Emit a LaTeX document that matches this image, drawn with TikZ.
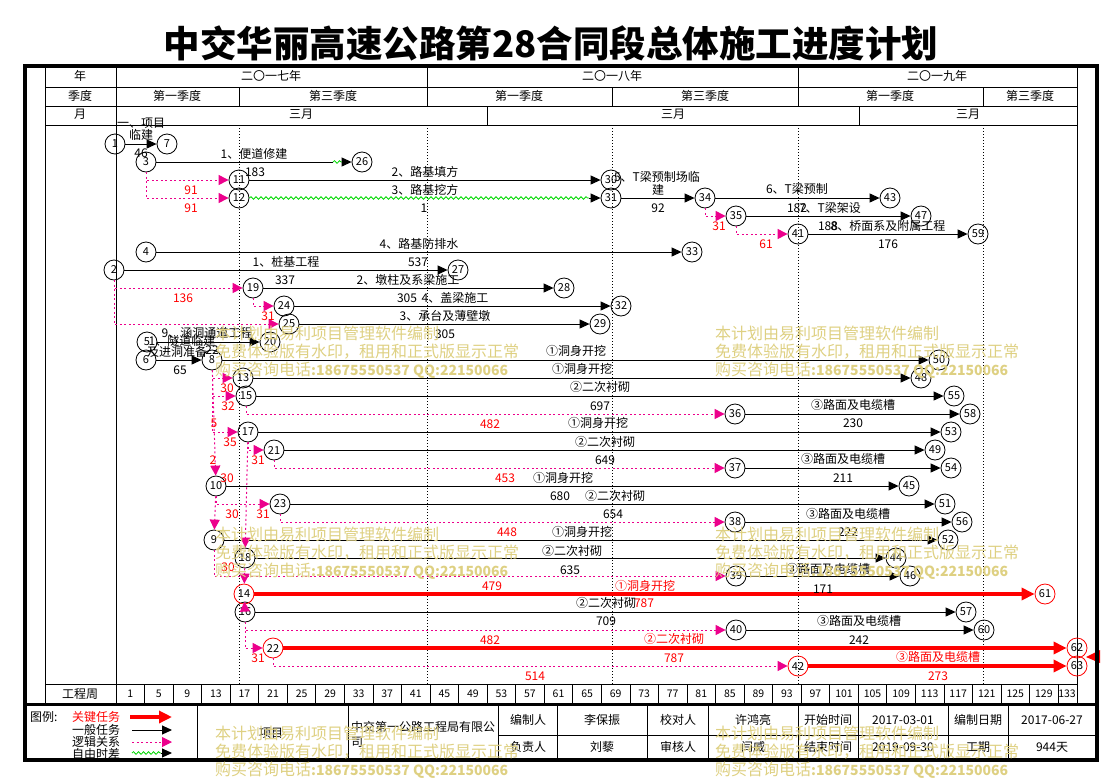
\documentclass[tikz,border=0pt]{standalone}
\usepackage{fontspec}
\setmainfont{Noto Sans CJK SC}
\usetikzlibrary{arrows.meta,decorations.pathmorphing}
\definecolor{wmark}{RGB}{222,208,130}
\definecolor{floatgreen}{RGB}{0,215,0}
\newcommand{\wmtext}[3]{\node[wm] (#1) at (#2,#3) {本计划由易利项目管理软件编制\\免费体验版有水印，租用和正式版显示正常\\购买咨询电话{\fontsize{14}{18}\selectfont\bfseries :18675550537 QQ:22150066}};}
\begin{document}
\begin{tikzpicture}[x=1pt,y=-1pt,>={Triangle[length=10pt,width=9pt]}]
        \tikzstyle{event}=[circle,draw=black,line width=0.8pt,minimum size=20pt,inner sep=0pt,font=\fontsize{11}{11}\selectfont]
        \tikzstyle{critevent}=[event,draw=red]
        \tikzstyle{task}=[draw,line width=1pt,->]
        \tikzstyle{crittask}=[draw=red,line width=3.5pt,-{Triangle[length=13pt,width=12pt]}]
        \tikzstyle{logic}=[draw=magenta,line width=1pt,dash pattern=on 2pt off 2.5pt,-{Triangle[length=10pt,width=10pt]}]
        \tikzstyle{freefloat}=[draw=floatgreen,line width=0.8pt,decorate,decoration={snake,amplitude=1.3pt,segment length=5pt}]
        \tikzstyle{txt}=[inner sep=0pt,font=\fontsize{12}{12}\selectfont]
        \tikzstyle{redtxt}=[txt,text=red]
        \tikzstyle{weekline}=[draw,line width=0.8pt,dash pattern=on 1pt off 2pt]
        \tikzstyle{thin}=[draw,line width=0.8pt]
        \tikzstyle{wm}=[anchor=west,align=left,inner sep=0pt,text=wmark,font=\fontsize{16}{18}\selectfont]
        \useasboundingbox (0,0) rectangle (1101,777);

        % title
        \node (title) at (551,43) {\fontsize{36.5}{40}\selectfont\bfseries 中交华丽高速公路第28合同段总体施工进度计划};

        % time scale
        \foreach \x in {239,427,612,798,983}
          \path[weekline] (\x,125) -- (\x,684);
        \path[thin] (45,87) -- (1077,87) (45,106) -- (1077,106) (45,125) -- (1077,125) (45,684) -- (1077,684);
        \path[thin] (45,66) -- (45,704) (116,66) -- (116,704) (1077,66) -- (1077,704);
        \path[thin] (427,66) -- (427,87) (798,66) -- (798,87);
        \foreach \x in {239,427,612,798,983}
          \path[thin] (\x,87) -- (\x,106);
        \path[thin] (487,106) -- (487,125) (859,106) -- (859,125);
        \foreach \i in {1,...,33}
          \path[thin] ({116+28.55*\i},684) -- ({116+28.55*\i},704);

        \node[txt] (hy) at (80,76) {年};
        \node[txt] (hq) at (80,96) {季度};
        \node[txt] (hm) at (80,114) {月};
        \node[txt] (hw) at (80,694) {工程周};
        \node[txt] (y1) at (271,76) {二〇一七年};
        \node[txt] (y2) at (612,76) {二〇一八年};
        \node[txt] (y3) at (937,76) {二〇一九年};
        \node[txt] (q1) at (177,96) {第一季度};
        \node[txt] (q2) at (333,96) {第三季度};
        \node[txt] (q3) at (519,96) {第一季度};
        \node[txt] (q4) at (705,96) {第三季度};
        \node[txt] (q5) at (890,96) {第一季度};
        \node[txt] (q6) at (1030,96) {第三季度};
        \node[txt] (m1) at (301,114) {三月};
        \node[txt] (m2) at (673,114) {三月};
        \node[txt] (m3) at (968,114) {三月};
        \foreach \i in {0,...,32}{
          \pgfmathtruncatemacro{\wk}{1+4*\i}
          \node[txt,font=\fontsize{10.5}{11}\selectfont] (w\i) at ({116+28.55*(\i+0.5)},694) {\wk};
        }
        \node[txt,font=\fontsize{10.5}{11}\selectfont] (w33) at (1067,694) {133};

        % events
        \foreach \n/\x/\y in {1/115/144, 7/167/144, 3/146/162, 26/362/162, 11/239/180, 30/611/180,
            12/239/198, 31/611/198, 34/705/198, 43/890/198, 35/736/216, 47/921/216, 41/798/234, 59/978/234,
            4/146/252, 33/692/252, 2/114/270, 27/458/270, 19/253/288, 28/564/288, 24/284/306, 32/621/306,
            25/289/324, 29/600/324, 5/147/342, 20/270/342, 6/146/360, 8/212/360, 50/939/360,
            13/243/378, 48/921/378, 15/246/396, 55/954/396, 36/735/414, 58/970/414, 17/248/432, 53/951/432,
            21/274/450, 49/935/450, 37/735/468, 54/951/468, 10/216/486, 45/909/486, 23/280/504, 51/945/504,
            38/735/522, 56/962/522, 9/214/540, 52/948/540, 18/245/558, 44/896/558, 39/736/576, 46/910/576,
            16/245/612, 57/966/612, 40/736/630, 60/984/630}
          \node[event] (n\n) at (\x,\y) {\n};
        \foreach \n/\x/\y in {14/244/594, 61/1045/594, 22/273/648, 62/1077/648, 42/798/666, 63/1077/666}
          \node[critevent] (n\n) at (\x,\y) {\n};

        % tasks
        \foreach \a/\b in {1/7, 11/30, 31/34, 34/43, 35/47, 41/59, 4/33, 2/27, 19/28, 24/32, 25/29,
            5/20, 6/8, 8/50, 13/48, 15/55, 36/58, 17/53, 21/49, 37/54, 10/45, 23/51, 38/56,
            9/52, 18/44, 39/46, 16/57, 40/60}
          \path[task] (n\a) -- (n\b);
        \foreach \a/\b in {14/61, 22/62, 42/63}
          \path[crittask] (n\a) -- (n\b);

        % free float
        \coordinate (f3a) at (333,162);
        \coordinate (f3b) at (342,162);
        \coordinate (f12) at (589,198);
        \path[task,-] (n3) -- (f3a);
        \path[freefloat] (f3a) -- (f3b);
        \path[task] (f3b) -- (n26);
        \path[freefloat] (n12) -- (f12);
        \path[task] (f12) -- (n31);

        % logic links
        \foreach \a/\b in {3/11, 3/12, 34/35, 35/41, 2/19, 2/25, 19/24, 8/13, 8/15, 8/17, 15/36,
            17/21, 21/37, 10/23, 23/38, 9/39, 16/40, 16/22, 22/42}
          \path[logic] (n\a) |- (n\b);
        \foreach \a/\b in {8/10, 10/9, 17/18, 18/14, 14/16}
          \path[logic] (n\a) -- (n\b);
        \fill[red] (1086,657) -- (1100,650) -- (1100,663) -- cycle;

        % task names and durations
        \foreach \x/\y/\t [count=\i] in {141/123/一、项目, 141/135/临建, 141/153/46, 254/154/1、便道修建, 255/172/183,
            425/172/2、路基填方, 425/190/3、路基挖方, 424/208/1, 657/177/5、T梁预制场临, 658/190/建, 658/208/92,
            797/189/6、T梁预制, 797/208/182, 830/208/7、T梁架设, 828/226/188, 888/226/8、桥面系及附属工程, 888/244/176,
            419/244/4、路基防排水, 418/262/537, 286/262/1、桩基工程, 285/280/337, 408/280/2、墩柱及系梁施工,
            407/298/305, 455/298/4、盖梁施工, 445/316/3、承台及薄壁墩, 445/334/305, 207/333/9、涵洞通道工程,
            182/341/1、隧道临建, 177/352/及进洞准备, 212/350/22, 180/370/65,
            576/351/①洞身开挖, 582/369/①洞身开挖, 600/387/②二次衬砌, 600/406/697,
            853/405/③路面及电缆槽, 853/423/230, 598/423/①洞身开挖, 605/442/②二次衬砌, 605/460/649,
            843/459/③路面及电缆槽, 843/478/211, 563/478/①洞身开挖, 560/496/680, 615/496/②二次衬砌, 613/514/654,
            848/514/③路面及电缆槽, 848/532/222, 582/532/①洞身开挖, 572/551/②二次衬砌, 570/570/635,
            828/569/③路面及电缆槽, 823/589/171, 606/603/②二次衬砌, 606/621/709, 859/621/③路面及电缆槽, 859/640/242}
          \node[txt] (t\i) at (\x,\y) {\t};
        \foreach \x/\y/\t [count=\i] in {191/190/91, 191/208/91, 719/226/31, 766/244/61, 183/298/136, 268/316/31,
            227/388/30, 228/406/32, 490/424/482, 214/423/5, 230/442/35, 213/460/2, 258/460/31, 505/478/453,
            227/478/30, 232/514/30, 263/514/31, 507/532/448, 228/567/30, 492/586/479, 645/586/①洞身开挖,
            644/603/787, 490/640/482, 674/639/②二次衬砌, 674/658/787, 258/658/31, 535/676/514,
            938/657/③路面及电缆槽, 938/676/273}
          \node[redtxt] (r\i) at (\x,\y) {\t};

        % legend
        \path[thin] (498,735) -- (1097,735);
        \foreach \x in {197,348,498,557,647,708,798,858,948,1008}
          \path[thin] (\x,704) -- (\x,760);
        \node[txt,anchor=west] (lg0) at (30,717) {图例:};
        \node[redtxt,anchor=west] (lg1) at (72,717) {关键任务};
        \node[txt,anchor=west] (lg2) at (72,730) {一般任务};
        \node[txt,anchor=west] (lg3) at (72,742) {逻辑关系};
        \node[txt,anchor=west] (lg4) at (72,754) {自由时差};
        \path[crittask] (130,717) -- (172,717);
        \path[task] (132,730) -- (172,730);
        \path[logic] (132,742) -- (172,742);
        \path[freefloat] (132,753) -- (161,753);
        \path[task] (161,753) -- (172,753);
        \node[txt] (p1) at (271,733) {项目};
        \node[txt,anchor=west] (p2) at (351,727) {中交第一公路工程局有限公};
        \node[txt,anchor=west] (p3) at (351,742) {司};
        \foreach \x/\t [count=\i] in {528/编制人, 602/李保振, 678/校对人, 753/许鸿亮, 828/开始时间, 903/2017-03-01, 978/编制日期, 1052/2017-06-27}
          \node[txt] (a\i) at (\x,720) {\t};
        \foreach \x/\t [count=\i] in {528/负责人, 602/刘藜, 678/审核人, 753/闫威, 828/结束时间, 903/2019-09-30, 978/工期, 1052/944天}
          \node[txt] (b\i) at (\x,747) {\t};

        % frame
        \draw[line width=3.5pt] (25,66) rectangle (1097,760);
        \draw[line width=3pt] (25,704) -- (1097,704);

        % watermark
        \wmtext{wm1}{215}{352}
        \wmtext{wm2}{715}{352}
        \wmtext{wm3}{215}{553}
        \wmtext{wm4}{715}{553}
        \wmtext{wm5}{215}{752}
        \wmtext{wm6}{715}{752}
\end{tikzpicture}
\end{document}
